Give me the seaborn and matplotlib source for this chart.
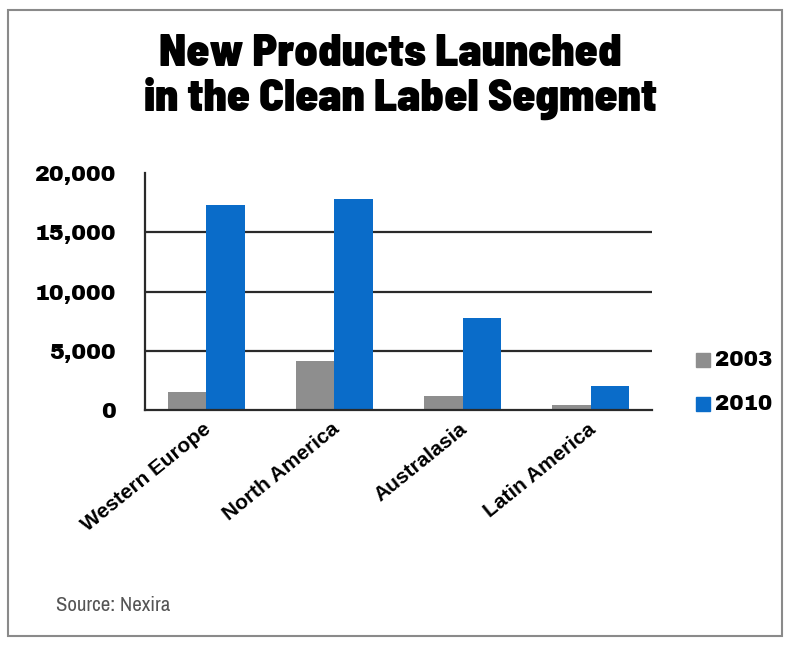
import matplotlib
matplotlib.use("Agg")
import matplotlib.pyplot as plt
import matplotlib.transforms as mtransforms
from matplotlib.patches import Rectangle
import seaborn as sns
import pandas as pd

regions = ["Western Europe", "North America", "Australasia", "Latin America"]
years = ["2003", "2010"]
launches_2003 = [1500, 4100, 1200, 400]
launches_2010 = [17300, 17800, 7800, 2000]
y_ticks = [0, 5000, 10000, 15000, 20000]
y_tick_labels = ["0", "5,000", "10,000", "15,000", "20,000"]

colors = {"2003": "#8e8e8e", "2010": "#0a6cc9"}

df = pd.DataFrame({
    "region": regions * 2,
    "year": [years[0]] * len(regions) + [years[1]] * len(regions),
    "launches": launches_2003 + launches_2010,
})

sns.set_theme(style="white")
plt.rcParams["font.family"] = ["Liberation Sans", "DejaVu Sans"]
plt.rcParams["text.color"] = "black"

W, H = 792, 646
HEAVY = ["Archivo Black", "Liberation Sans", "DejaVu Sans"]
TITLE = ["Barlow Semi Condensed", "Barlow Condensed", "Liberation Sans", "DejaVu Sans"]
NARROW = ["Archivo Narrow", "Liberation Sans", "DejaVu Sans"]

fig = plt.figure(figsize=(W / 100, H / 100), dpi=100)
ax = fig.add_axes([145 / W, 1 - 410 / H, 507 / W, 237 / H])

sns.barplot(data=df, x="region", y="launches", hue="year", palette=colors,
            saturation=1, width=0.6, ax=ax, legend=False, linewidth=0)

ax.set_xlim(-0.48, 3.48)
ax.set_ylim(0, 20000)
ax.set_yticks(y_ticks)
ax.set_yticklabels(y_tick_labels, fontsize=16, family=HEAVY, color="black")
ax.set_xlabel("")
ax.set_ylabel("")
for y in y_ticks[1:-1]:
    ax.axhline(y, color="#2a2a2a", lw=1.6, zorder=0)
for s in ["top", "right"]:
    ax.spines[s].set_visible(False)
for s in ["left", "bottom"]:
    ax.spines[s].set_color("#2a2a2a")
    ax.spines[s].set_linewidth(1.6)
ax.tick_params(axis="y", length=0, pad=21)
ax.tick_params(axis="x", length=0, pad=0)
ax.set_xticks(range(len(regions)))
ax.set_xticklabels(regions, rotation=39, ha="right", va="baseline",
                   rotation_mode="anchor", fontsize=15, fontweight="bold",
                   color="black")
shift = mtransforms.ScaledTranslation(6 / 100, -21 / 100, fig.dpi_scale_trans)
for lab in ax.get_xticklabels():
    lab.set_transform(lab.get_transform() + shift)

# legend: coloured squares with year labels
for i, yr in enumerate(years):
    cy = 360 + 44 * i
    fig.patches.append(Rectangle((696 / W, 1 - (cy + 7) / H), 14 / W, 14 / H,
                                 transform=fig.transFigure, color=colors[yr]))
    fig.text(715 / W, 1 - cy / H, yr, fontsize=15.5, family=HEAVY, va="center",
             ha="left", color="black")

fig.text(390.5 / W, 1 - 66.5 / H, "New Products Launched", ha="center",
         va="baseline", fontsize=33, fontweight=900, family=TITLE, color="black")
fig.text(400 / W, 1 - 111 / H, "in the Clean Label Segment", ha="center",
         va="baseline", fontsize=33, fontweight=900, family=TITLE, color="black")

fig.text(56 / W, 1 - 611 / H, "Source: Nexira", fontsize=15, color="#555555",
         va="baseline", ha="left", family=NARROW)

fig.patches.append(Rectangle((8 / W, 10 / H), 774 / W, 626 / H,
                             transform=fig.transFigure, fill=False,
                             edgecolor="#8a8a8a", lw=1.5))

fig.savefig("out.png", dpi=100)
